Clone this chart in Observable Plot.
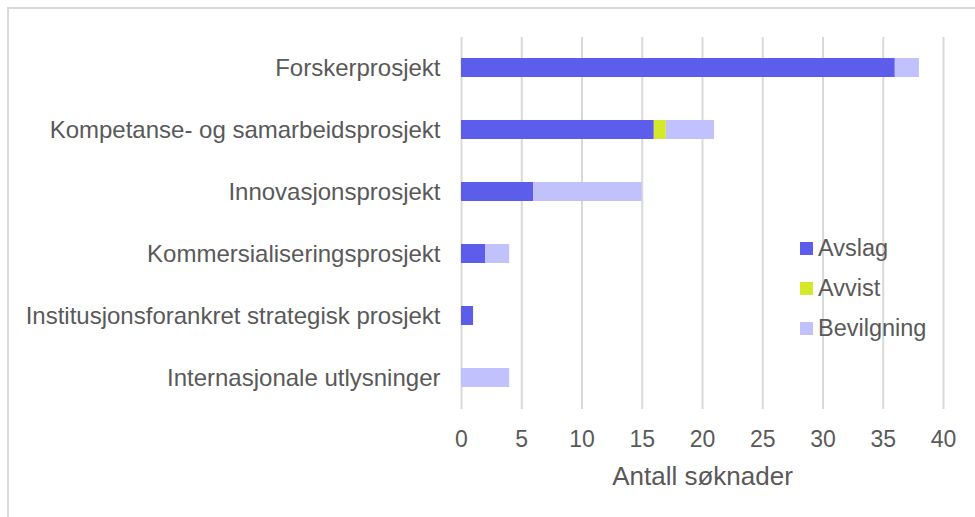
<!DOCTYPE html>
<html>
<head>
<meta charset="utf-8">
<script src="https://cdn.jsdelivr.net/npm/d3@7"></script>
<script src="https://cdn.jsdelivr.net/npm/@observablehq/plot@0.6"></script>
<style>
  html, body { margin: 0; padding: 0; background: #fff; }
  #wrap { position: relative; width: 975px; height: 517px; overflow: hidden; font-family: "Liberation Sans", Arial, sans-serif; }
  #frame { position: absolute; left: 7px; top: 7px; width: 1200px; height: 1200px; border-top: 2px solid #d9d9d9; border-left: 2px solid #d9d9d9; pointer-events: none; }
  #legend { position: absolute; left: 800px; top: 228px; color: #595959; font-size: 23.5px; }
  .row { display: flex; align-items: center; height: 40px; }
  .sw { width: 13px; height: 13px; margin-right: 5px; }
</style>
</head>
<body>
<div id="wrap"><div id="chart"></div><div id="frame"></div><div id="legend"></div></div>
<script>
const categories = [
  "Forskerprosjekt",
  "Kompetanse- og samarbeidsprosjekt",
  "Innovasjonsprosjekt",
  "Kommersialiseringsprosjekt",
  "Institusjonsforankret strategisk prosjekt",
  "Internasjonale utlysninger"
];
const seriesNames = ["Avslag", "Avvist", "Bevilgning"];
const avslag     = [36, 16, 6, 2, 1, 0];
const avvist     = [0, 1, 0, 0, 0, 0];
const bevilgning = [2, 4, 9, 2, 0, 4];
const colors = ["#5d5deb", "#d6e82a", "#c1c1fd"];
const xTicks = [0, 5, 10, 15, 20, 25, 30, 35, 40];
const xLabel = "Antall søknader";

const seriesValues = [avslag, avvist, bevilgning];
const data = [];
seriesNames.forEach((s, si) => {
  categories.forEach((c, ci) => {
    const v = seriesValues[si][ci];
    if (v > 0) data.push({category: c, series: s, value: v});
  });
});

const chart = Plot.plot({
  width: 975,
  height: 517,
  marginLeft: 461,
  marginRight: 32,
  marginTop: 37,
  marginBottom: 108,
  style: {background: "transparent", fontFamily: "'Liberation Sans', Arial, sans-serif", color: "#595959"},
  x: {domain: [0, 40], ticks: xTicks},
  y: {domain: categories, paddingInner: 0.69, paddingOuter: 0.345},
  color: {domain: seriesNames, range: colors},
  marks: [
    Plot.gridX(xTicks, {stroke: "#d9d9d9", strokeOpacity: 1, strokeWidth: 2}),
    Plot.barX(data, Plot.stackX({y: "category", x: "value", fill: "series", order: null})),
    Plot.axisX({ticks: xTicks, tickSize: 0, tickPadding: 21, fontSize: 23, label: null, fill: "#595959"}),
    Plot.axisY({tickSize: 0, tickPadding: 21, fontSize: 24, label: null, fill: "#595959"}),
    Plot.text([xLabel], {text: d => d, frameAnchor: "bottom", lineAnchor: "top", dy: 57, fontSize: 26, fill: "#595959"})
  ]
});
document.getElementById("chart").appendChild(chart);

const legend = document.getElementById("legend");
seriesNames.forEach((s, i) => {
  const row = document.createElement("div");
  row.className = "row";
  const sw = document.createElement("div");
  sw.className = "sw";
  sw.style.background = colors[i];
  const lab = document.createElement("span");
  lab.textContent = s;
  row.appendChild(sw);
  row.appendChild(lab);
  legend.appendChild(row);
});
</script>
</body>
</html>
